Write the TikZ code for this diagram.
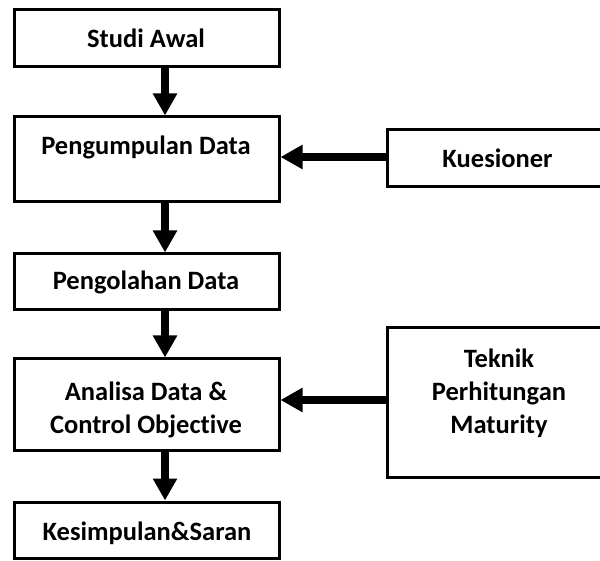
\documentclass[tikz,border=0pt]{standalone}
\usepackage{fontspec}
\setmainfont{Carlito}[Ligatures={NoCommon}]
\usetikzlibrary{arrows.meta}
\begin{document}
\begin{tikzpicture}[x=1pt,y=-1pt,
  box/.style={draw=black,line width=3pt,fill=white,minimum width=265pt,inner sep=0pt},
  sbox/.style={draw=black,line width=3pt,fill=white,minimum width=223pt,inner sep=0pt},
  lbl/.style={anchor=base,inner sep=0pt,font=\fontsize{26.5}{32}\selectfont\bfseries},
  arr/.style={line width=8pt,-{Triangle[width=23pt,length=22pt]}}]
\useasboundingbox (0,0) rectangle (600,561);
\begin{scope}
\clip (0,0) rectangle (600,561);
% left column boxes
\node[box,minimum height=57pt] (b1) at (146.5,38.5) {};
\node[box,minimum height=85pt] (b2) at (146.5,159.5) {};
\node[box,minimum height=56pt] (b3) at (146.5,282) {};
\node[box,minimum height=91pt] (b4) at (146.5,404.5) {};
\node[box,minimum height=56pt] (b5) at (146.5,530) {};
% right boxes
\node[sbox,minimum height=57pt] (k) at (498.5,158.5) {};
\node[sbox,minimum height=149pt] (t) at (498.5,402.5) {};
\end{scope}
% labels
\node[lbl] (t1) at (146,48) {Studi Awal};
\node[lbl] (t2) at (146,155) {Pengumpulan Data};
\node[lbl] (t3) at (146,290) {Pengolahan Data};
\node[lbl] (t4a) at (146,400) {Analisa Data \&};
\node[lbl] (t4b) at (146,433) {Control Objective};
\node[lbl] (t5) at (147,540) {Kesimpulan\&Saran};
\node[lbl] (tk) at (497.5,168) {Kuesioner};
\node[lbl] (tt1) at (499,367) {Teknik};
\node[lbl] (tt2) at (499,400) {Perhitungan};
\node[lbl] (tt3) at (499,433) {Maturity};
% vertical arrows
\draw[arr] ([xshift=18.5pt]b1.south) -- ([xshift=18.5pt]b2.north);
\draw[arr] ([xshift=18.5pt]b2.south) -- ([xshift=18.5pt]b3.north);
\draw[arr] ([xshift=18.5pt]b3.south) -- ([xshift=18.5pt]b4.north);
\draw[arr] ([xshift=18.5pt]b4.south) -- ([xshift=18.5pt]b5.north);
% horizontal arrows
\draw[arr] ([yshift=1.5pt]k.west) -- ([yshift=1.5pt]k.west -| b2.east);
\draw[arr] ([yshift=2.5pt]t.west) -- ([yshift=2.5pt]t.west -| b4.east);
\end{tikzpicture}
\end{document}
